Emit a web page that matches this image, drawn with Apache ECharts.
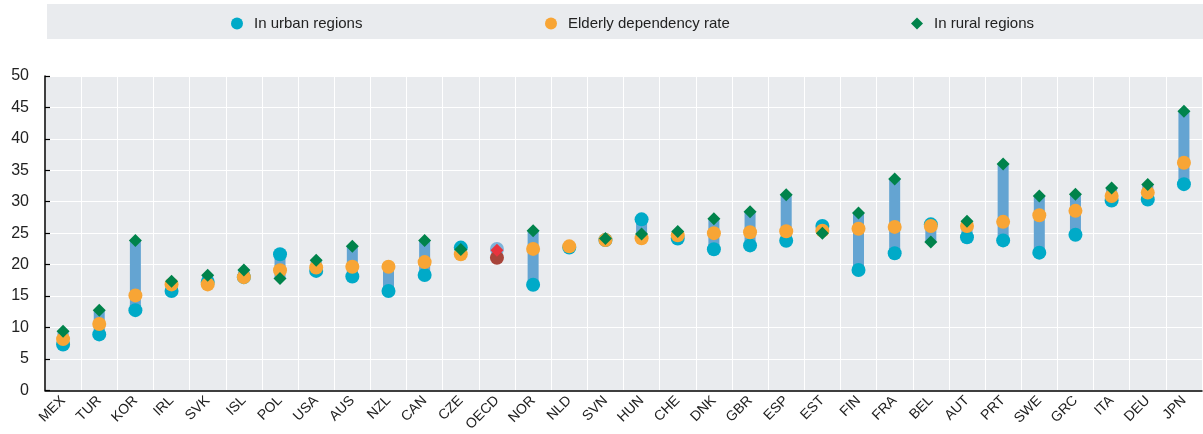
<!DOCTYPE html>
<html>
<head>
<meta charset="utf-8">
<script src="https://cdn.jsdelivr.net/npm/echarts@6/dist/echarts.min.js"></script>
<style>html,body{margin:0;padding:0;background:#fff}#c{width:1203px;height:434px}</style>
</head>
<body>
<div id="c"></div>
<script>
const categories = ['MEX','TUR','KOR','IRL','SVK','ISL','POL','USA','AUS','NZL','CAN','CZE','OECD','NOR','NLD','SVN','HUN','CHE','DNK','GBR','ESP','EST','FIN','FRA','BEL','AUT','PRT','SWE','GRC','ITA','DEU','JPN'];
const urban   = [7.3, 8.9, 12.75, 15.8, 17.25, 18.0, 21.65, 19.0, 18.1, 15.8, 18.35, 22.7, 22.5, 16.8, 22.7, 23.9, 27.2, 24.15, 22.45, 23.05, 23.8, 26.15, 19.15, 21.8, 26.4, 24.35, 23.85, 21.9, 24.75, 30.2, 30.35, 32.8];
const elderly = [8.15, 10.55, 15.1, 16.85, 16.85, 18.0, 19.1, 19.55, 19.65, 19.65, 20.4, 21.65, 21.1, 22.5, 22.9, 23.9, 24.2, 24.65, 25.0, 25.15, 25.3, 25.4, 25.7, 26.0, 26.15, 26.15, 26.8, 27.85, 28.55, 30.9, 31.45, 36.2];
const rural   = [9.4, 12.75, 23.85, 17.35, 18.3, 19.15, 17.8, 20.7, 22.9, null, 23.85, 22.4, 22.3, 25.4, null, 24.15, 24.85, 25.25, 27.3, 28.4, 31.1, 25.0, 28.2, 33.6, 23.6, 26.9, 36.0, 30.9, 31.2, 32.2, 32.75, 44.4];
const yTicks = [0, 5, 10, 15, 20, 25, 30, 35, 40, 45, 50];

const FONT = '"Liberation Sans", Arial, sans-serif';
const oecdIdx = categories.indexOf('OECD');

const lows = categories.map((c, i) => Math.min(...[urban[i], elderly[i], rural[i]].filter(v => v != null)));
const highs = categories.map((c, i) => Math.max(...[urban[i], elderly[i], rural[i]].filter(v => v != null)));
const spans = highs.map((h, i) => +(h - lows[i]).toFixed(3));

function withHighlight(arr, color) {
  return arr.map((v, i) => i === oecdIdx ? { value: v, itemStyle: { color: color } } : v);
}

const legendText = { fontFamily: FONT, fontSize: 15, color: '#222', padding: [0, 0, 0, 6] };

const chart = echarts.init(document.getElementById('c'));
chart.setOption({
  animation: false,
  backgroundColor: '#ffffff',
  graphic: [{
    type: 'rect', left: 47, top: 4, z: -10,
    shape: { width: 1156, height: 35 },
    style: { fill: '#e9ebee' }
  }],
  legend: [
    { data: ['In urban regions'], left: 226, top: 11, itemWidth: 12, itemHeight: 12, textStyle: legendText },
    { data: ['Elderly dependency rate'], left: 540, top: 11, itemWidth: 12, itemHeight: 12, textStyle: legendText },
    { data: ['In rural regions'], left: 906, top: 11, itemWidth: 12, itemHeight: 12, textStyle: legendText }
  ],
  grid: { left: 45, right: 1, top: 76, bottom: 39, show: true, backgroundColor: '#e9ebee', borderWidth: 0 },
  xAxis: {
    type: 'category', data: categories, boundaryGap: true,
    axisLine: { lineStyle: { color: '#000', width: 1.5 } },
    axisTick: { inside: true, length: 5, lineStyle: { color: '#000', width: 1.2 } },
    splitLine: { show: true, lineStyle: { color: '#ffffff', width: 1 } },
    axisLabel: { rotate: 45, interval: 0, margin: 8, fontFamily: FONT, fontSize: 14, color: '#222' }
  },
  yAxis: {
    type: 'value', min: yTicks[0], max: yTicks[yTicks.length - 1], interval: 5,
    axisLine: { show: true, lineStyle: { color: '#000', width: 1.5 } },
    axisTick: { show: true, inside: true, length: 5, lineStyle: { color: '#000', width: 1.2 } },
    splitLine: { show: true, lineStyle: { color: '#ffffff', width: 1.2 } },
    axisLabel: { margin: 16, fontFamily: FONT, fontSize: 16, color: '#222' }
  },
  series: [
    { name: 'base', type: 'bar', stack: 'r', data: lows, barWidth: 11, silent: true,
      itemStyle: { color: 'transparent' }, z: 1 },
    { name: 'range', type: 'bar', stack: 'r', data: spans, barWidth: 11, silent: true,
      itemStyle: { color: '#64a4d2' }, z: 1 },
    { name: 'In urban regions', type: 'scatter', symbol: 'circle', symbolSize: 14,
      data: withHighlight(urban, '#7db3da'), itemStyle: { color: '#00aac8', opacity: 1 }, z: 3 },
    { name: 'Elderly dependency rate', type: 'scatter', symbol: 'circle', symbolSize: 14,
      data: withHighlight(elderly, '#a8443a'), itemStyle: { color: '#f8a535', opacity: 1 }, z: 4 },
    { name: 'In rural regions', type: 'scatter', symbol: 'diamond', symbolSize: 13,
      data: withHighlight(rural, '#e8343e'), itemStyle: { color: '#00834b', opacity: 1 }, z: 5 }
  ]
});
</script>
</body>
</html>
